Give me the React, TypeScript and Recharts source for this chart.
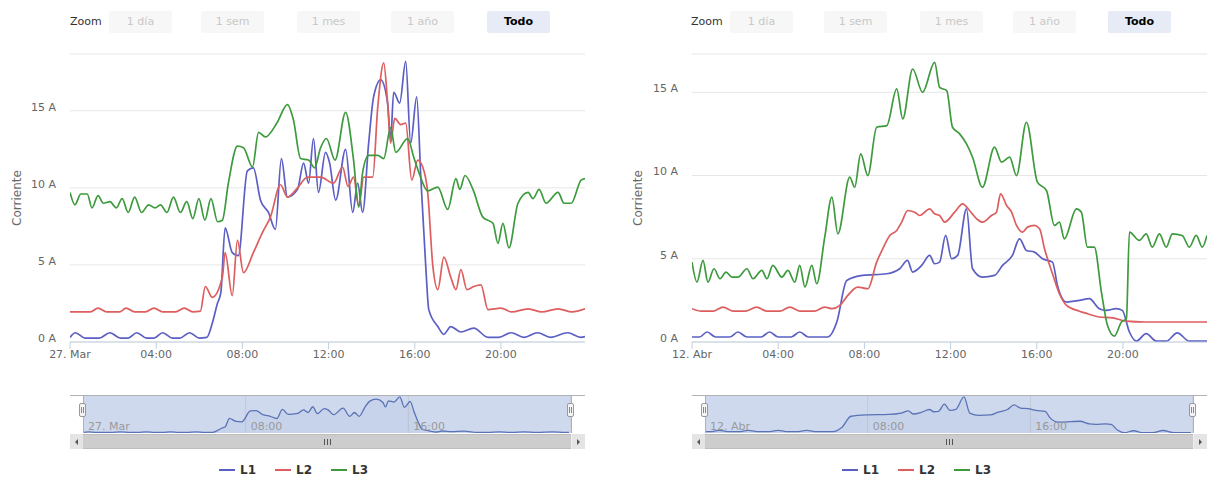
import React from 'react';
import { LineChart, Line, AreaChart, Area, XAxis, YAxis, CartesianGrid, Legend } from 'recharts';

type Pt = [number, number];

// [hour of day, amps]
const MAR_L1: Pt[] = [
  [0, 0.3], [0.25, 0.6], [0.7, 0.25], [1.35, 0.25], [1.85, 0.6], [2.35, 0.25], [2.7, 0.25],
  [3.1, 0.6], [3.55, 0.25], [3.9, 0.25], [4.3, 0.6], [4.75, 0.25], [5.1, 0.25], [5.55, 0.6],
  [6.0, 0.25], [6.35, 0.3], [6.6, 1.2], [6.84, 2.5], [7.0, 3.2], [7.2, 7.4], [7.53, 5.8],
  [7.81, 5.6], [8.23, 11.1], [8.51, 11.3], [8.84, 9.2], [9.21, 8.4], [9.53, 7.3], [9.81, 11.9],
  [10.09, 9.4], [10.56, 9.9], [10.84, 11.6], [11.07, 10.3], [11.3, 13.2], [11.53, 9.7],
  [11.86, 12.3], [12.05, 11.6], [12.33, 9.2], [12.79, 12.5], [13.12, 8.4], [13.35, 10.3],
  [13.58, 8.4], [13.86, 12.9], [14.09, 15.9], [14.42, 17.0], [14.74, 15.5], [14.88, 13.1],
  [15.02, 16.2], [15.3, 15.5], [15.58, 18.2], [15.81, 12.9], [16.09, 15.9], [16.28, 10.7],
  [16.51, 4.9], [16.65, 2.1], [17.07, 1.0], [17.35, 0.5], [17.67, 1.0], [18.14, 0.65],
  [18.74, 0.9], [19.4, 0.3], [19.9, 0.3], [20.47, 0.6], [21.07, 0.3], [21.7, 0.6], [22.3, 0.3],
  [23.1, 0.6], [23.7, 0.3], [23.9, 0.35],
];
const MAR_L2: Pt[] = [
  [0, 1.95], [0.5, 1.95], [0.95, 1.95], [1.3, 2.2], [1.7, 1.95], [2.3, 1.95], [2.6, 2.2],
  [3.0, 1.95], [3.5, 1.95], [3.9, 2.2], [4.3, 1.95], [4.9, 1.95], [5.3, 2.2], [5.7, 1.95],
  [6.05, 2.0], [6.28, 3.6], [6.6, 2.9], [7.07, 4.2], [7.2, 5.8], [7.53, 3.0], [7.77, 6.6],
  [8.05, 4.5], [8.51, 5.8], [8.93, 7.1], [9.3, 8.1], [9.77, 10.2], [10.09, 9.4], [10.56, 10.0],
  [11.02, 10.7], [11.63, 10.7], [12.23, 10.3], [12.65, 11.35], [12.9, 10.1], [13.16, 10.7],
  [13.4, 8.8], [13.63, 10.7], [14.05, 10.7], [14.28, 15.2], [14.56, 18.1], [14.74, 15.5],
  [14.88, 12.9], [15.07, 14.5], [15.35, 14.1], [15.58, 14.2], [15.86, 10.5], [16.14, 11.8],
  [16.37, 11.35], [16.6, 9.7], [16.84, 4.9], [17.07, 3.4], [17.35, 5.5], [17.67, 4.2],
  [17.91, 3.4], [18.14, 4.7], [18.42, 3.4], [18.74, 3.6], [19.07, 3.7], [19.4, 2.1],
  [20.0, 2.2], [20.5, 1.95], [21.26, 2.15], [21.9, 1.95], [22.65, 2.15], [23.3, 1.95],
  [23.9, 2.15],
];
const MAR_L3: Pt[] = [
  [0, 9.7], [0.23, 8.9], [0.5, 9.6], [0.8, 9.6], [1.02, 8.7], [1.3, 9.5], [1.55, 9.0],
  [1.85, 9.1], [2.15, 8.7], [2.42, 9.3], [2.7, 8.4], [3.0, 9.4], [3.32, 8.4], [3.65, 8.9],
  [3.95, 8.7], [4.2, 8.9], [4.5, 8.4], [4.8, 9.4], [5.12, 8.4], [5.42, 9.1], [5.7, 8.0],
  [5.98, 9.3], [6.26, 7.9], [6.54, 9.3], [6.85, 7.8], [7.07, 7.9], [7.35, 10.3], [7.77, 12.7],
  [8.05, 12.6], [8.47, 11.35], [8.75, 13.6], [9.07, 13.3], [9.6, 14.2], [10.09, 15.4],
  [10.37, 14.4], [10.7, 11.9], [11.07, 11.8], [11.35, 11.3], [11.63, 12.6], [11.9, 13.2],
  [12.3, 11.8], [12.79, 14.9], [13.16, 11.8], [13.4, 8.75], [13.58, 11.0], [13.86, 12.1],
  [14.28, 12.1], [14.56, 11.9], [14.88, 13.9], [15.12, 12.3], [15.67, 13.2], [15.95, 12.0],
  [16.19, 11.0], [16.6, 9.8], [17.07, 10.05], [17.53, 8.6], [17.91, 10.6], [18.09, 9.9],
  [18.33, 10.8], [18.7, 9.9], [19.16, 8.1], [19.63, 7.7], [19.86, 6.4], [20.09, 7.7],
  [20.37, 6.1], [20.79, 9.0], [21.26, 9.7], [21.49, 9.3], [21.77, 9.9], [22.09, 9.0],
  [22.65, 9.7], [22.93, 9.0], [23.26, 9.0], [23.72, 10.5], [23.9, 10.6],
];

const ABR_L1: Pt[] = [
  [0, 0.3], [0.35, 0.3], [0.7, 0.6], [1.1, 0.3], [1.75, 0.3], [2.13, 0.6], [2.55, 0.3],
  [3.2, 0.3], [3.6, 0.6], [4.0, 0.3], [4.6, 0.3], [5.0, 0.6], [5.4, 0.3], [6.3, 0.3],
  [6.72, 1.2], [7.18, 3.7], [7.92, 4.0], [9.04, 4.1], [9.64, 4.4], [10.0, 4.9], [10.24, 4.2],
  [10.66, 4.6], [11.03, 5.2], [11.26, 4.7], [11.49, 4.8], [11.77, 6.4], [12.05, 5.0],
  [12.33, 5.2], [12.74, 8.0], [13.02, 4.4], [13.48, 3.9], [14.04, 4.0], [14.41, 4.6],
  [14.87, 5.2], [15.2, 6.2], [15.52, 5.5], [15.89, 5.4], [16.27, 5.0], [16.73, 4.8],
  [16.96, 3.4], [17.38, 2.4], [17.98, 2.5], [18.44, 2.6], [18.9, 2.0], [19.23, 1.9],
  [19.69, 2.0], [19.97, 1.9], [20.3, 0.6], [20.62, 0.05], [21.08, 0.5], [21.55, 0.05],
  [22.01, 0.05], [22.52, 0.55], [23.08, 0.05], [23.68, 0.05], [23.9, 0.05],
];
const ABR_L2: Pt[] = [
  [0, 2.0], [0.4, 1.86], [1.0, 1.86], [1.44, 2.1], [1.9, 1.86], [2.5, 1.86], [3.0, 2.1],
  [3.45, 1.86], [4.1, 1.86], [4.54, 2.1], [5.0, 1.86], [5.7, 1.86], [6.16, 2.1], [6.5, 2.0],
  [6.86, 2.2], [7.23, 2.8], [7.69, 3.3], [8.16, 3.2], [8.57, 4.8], [8.85, 5.6], [9.18, 6.4],
  [9.5, 6.7], [9.73, 7.2], [10.01, 7.9], [10.33, 7.8], [10.57, 7.6], [11.03, 8.0],
  [11.26, 7.7], [11.49, 7.6], [11.72, 7.2], [12.19, 7.8], [12.56, 8.3], [12.88, 7.9],
  [13.21, 7.4], [13.48, 7.2], [13.9, 7.6], [14.13, 7.8], [14.32, 8.9], [14.6, 8.2],
  [14.83, 7.8], [15.06, 7.0], [15.34, 6.6], [15.57, 6.9], [15.89, 7.0], [16.13, 6.8],
  [16.36, 5.6], [16.73, 4.1], [17.05, 2.9], [17.38, 2.2], [17.98, 1.85], [18.35, 1.7],
  [18.9, 1.5], [19.51, 1.45], [20.16, 1.25], [21.0, 1.2], [23.9, 1.2],
];
const ABR_L3: Pt[] = [
  [0, 4.8], [0.23, 3.6], [0.51, 4.9], [0.74, 3.6], [1.02, 4.4], [1.3, 3.8], [1.58, 4.2],
  [1.85, 3.9], [2.13, 3.9], [2.55, 4.4], [2.83, 3.8], [3.24, 4.3], [3.48, 3.8], [3.75, 4.6],
  [4.17, 3.9], [4.45, 4.3], [4.77, 3.6], [5.0, 4.6], [5.24, 3.3], [5.56, 4.6], [5.79, 3.5],
  [6.16, 6.3], [6.49, 8.7], [6.77, 6.5], [7.32, 9.9], [7.55, 9.3], [7.83, 11.3], [8.16, 10.0],
  [8.57, 12.9], [9.04, 13.0], [9.5, 15.2], [9.78, 13.4], [10.24, 16.4], [10.7, 15.0],
  [11.26, 16.8], [11.49, 15.3], [11.82, 15.1], [12.09, 12.9], [12.42, 12.5], [12.74, 11.9],
  [13.02, 11.1], [13.48, 9.3], [14.04, 11.7], [14.37, 10.8], [14.74, 11.1], [15.06, 10.0],
  [15.52, 13.2], [16.03, 9.6], [16.45, 9.1], [16.82, 7.0], [17.05, 7.2], [17.28, 6.2],
  [17.84, 8.0], [18.07, 7.8], [18.35, 5.7], [18.67, 5.7], [19.0, 3.0], [19.28, 1.0],
  [19.6, 0.35], [19.93, 1.2], [20.16, 1.4], [20.3, 6.6], [20.76, 6.1], [21.08, 6.5],
  [21.36, 5.7], [21.69, 6.5], [22.01, 5.7], [22.29, 6.5], [22.75, 6.4], [23.08, 5.7],
  [23.4, 6.4], [23.68, 5.7], [23.9, 6.4],
];

const SERIES = ['L1', 'L2', 'L3'];
const COLORS = ['#5b5fc4', '#dd5e5e', '#3d9a3d'];
const NAV_COLOR = '#5a72b6';
const HOUR_TICKS = [0, 4, 8, 12, 16, 20];
const NAV_TICKS = [0, 8, 16];
const AMP_TICKS = [0, 5, 10, 15];
const RANGES = ['1 día', '1 sem', '1 mes', '1 año', 'Todo'];

const FONT = '"DejaVu Sans", Verdana, sans-serif';
const PLOT_TOP = 54;
const PLOT_BOTTOM = 342;
const NAV_TOP = 395;
const NAV_H = 38;
const SCROLL_TOP = 434;
const SCROLL_H = 15;

const toRows = (pts: Pt[]) => pts.map(([h, v]) => ({ h, v }));
const hourLabel = (day: string) => (h: number) =>
  h === 0 ? day : `${String(h).padStart(2, '0')}:00`;

const renderLegend = (props: any) => (
  <div style={{ display: 'flex' }}>
    {(props.payload || []).map((p: any) => (
      <div key={p.value} style={{ display: 'flex', alignItems: 'center', width: 56 }}>
        <svg width={16} height={10}>
          <line x1={0} y1={5} x2={16} y2={5} stroke={p.color} strokeWidth={2} />
        </svg>
        <span style={{ marginLeft: 5, fontSize: 12, fontWeight: 'bold', color: '#333', fontFamily: FONT }}>
          {p.value}
        </span>
      </div>
    ))}
  </div>
);

interface PanelProps {
  left: number;
  width: number;
  plotL: number;
  plotR: number;
  yMax: number;
  day: string;
  series: Pt[][];
  zoomX: number;
  buttonX: number[];
  titleX: number;
  legendX: number;
}

const Arrow = ({ dir }: { dir: 'l' | 'r' }) => (
  <div
    style={{
      width: 0,
      height: 0,
      borderTop: '3px solid transparent',
      borderBottom: '3px solid transparent',
      [dir === 'l' ? 'borderRight' : 'borderLeft']: '3px solid #555',
    }}
  />
);

const Panel = ({ left, width, plotL, plotR, yMax, day, series, zoomX, buttonX, titleX, legendX }: PanelProps) => {
  const navL = plotL + 13;
  const navR = plotR - 14;
  const fmt = hourLabel(day);
  const navData = toRows(series[0]);

  return (
    <div style={{ position: 'absolute', left, top: 0, width, height: 480 }}>
      <div style={{ position: 'absolute', left: zoomX, top: 11, height: 22, lineHeight: '22px', fontSize: 11, color: '#333' }}>
        Zoom
      </div>
      {RANGES.map((r, i) => {
        const on = i === RANGES.length - 1;
        return (
          <div
            key={r}
            style={{
              position: 'absolute',
              left: buttonX[i],
              top: 11,
              width: 63,
              height: 22,
              lineHeight: '22px',
              textAlign: 'center',
              fontSize: 11,
              borderRadius: 2,
              background: on ? '#e6ebf5' : '#f7f7f7',
              color: on ? '#000' : '#c8c8c8',
              fontWeight: on ? 'bold' : 'normal',
            }}
          >
            {r}
          </div>
        );
      })}

      <div style={{ position: 'absolute', left: 0, top: 0 }}>
        <LineChart
          width={width}
          height={480}
          margin={{ top: PLOT_TOP, right: width - plotR, bottom: 480 - PLOT_BOTTOM - 38, left: 0 }}
        >
          <CartesianGrid vertical={false} stroke="#e6e6e6" />
          <XAxis
            type="number"
            dataKey="h"
            domain={[0, 23.9]}
            allowDataOverflow
            ticks={HOUR_TICKS}
            interval={0}
            tickFormatter={fmt}
            height={38}
            tickSize={7}
            tickMargin={1}
            stroke="#c0d0e0"
            tick={{ fill: '#666', fontSize: 11 }}
          />
          <YAxis
            type="number"
            domain={[0, yMax]}
            allowDataOverflow
            ticks={AMP_TICKS}
            interval={0}
            width={plotL}
            tickSize={0}
            tickMargin={14}
            axisLine={false}
            tickLine={false}
            tickFormatter={(v: number) => `${v} A`}
            tick={{ fill: '#666', fontSize: 11, dy: -4 }}
            label={{
              value: 'Corriente',
              content: () => {
                const cy = (PLOT_TOP + PLOT_BOTTOM) / 2;
                return (
                  <text
                    x={titleX}
                    y={cy}
                    transform={`rotate(-90 ${titleX} ${cy})`}
                    textAnchor="middle"
                    dominantBaseline="central"
                    fill="#6a6a6a"
                    fontSize={12}
                  >
                    Corriente
                  </text>
                );
              },
            }}
          />
          {series.map((pts, i) => (
            <Line
              key={SERIES[i]}
              name={SERIES[i]}
              data={toRows(pts)}
              dataKey="v"
              type="monotone"
              stroke={COLORS[i]}
              strokeWidth={1.7}
              dot={false}
              activeDot={false}
              isAnimationActive={false}
            />
          ))}
          <Legend
            verticalAlign="middle"
            align="center"
            layout="horizontal"
            content={renderLegend}
            wrapperStyle={{ left: legendX, top: 463, width: 180, height: 18 }}
          />
        </LineChart>
      </div>

      {/* navigator */}
      <div style={{ position: 'absolute', left: navL, top: NAV_TOP, width: navR - navL, height: NAV_H, background: '#cfd9ee' }} />
      <div style={{ position: 'absolute', left: navL, top: NAV_TOP }}>
        <AreaChart width={navR - navL} height={NAV_H} margin={{ top: 0, right: 0, bottom: 0, left: 0 }} data={navData}>
          <CartesianGrid horizontal={false} stroke="#c2c8d4" />
          <XAxis
            type="number"
            dataKey="h"
            domain={[0, 24]}
            ticks={NAV_TICKS}
            interval={0}
            mirror
            tickSize={0}
            tickMargin={0}
            axisLine={false}
            tickLine={false}
            tick={(p: any) => (
              <text x={p.x + 5} y={NAV_H - 3} fill="#999" fontSize={11}>
                {fmt(p.payload.value)}
              </text>
            )}
          />
          <YAxis hide domain={[0, (m: number) => m * 1.05]} />
          <Area
            type="monotone"
            dataKey="v"
            stroke={NAV_COLOR}
            strokeWidth={1.3}
            fill={NAV_COLOR}
            fillOpacity={0.06}
            dot={false}
            activeDot={false}
            isAnimationActive={false}
          />
        </AreaChart>
      </div>
      <div style={{ position: 'absolute', left: plotL, top: NAV_TOP, width: plotR - plotL, height: 1, background: '#b2b1b6' }} />
      <div style={{ position: 'absolute', left: navL, top: NAV_TOP, width: 1, height: NAV_H, background: '#b2b1b6' }} />
      <div style={{ position: 'absolute', left: navR, top: NAV_TOP, width: 1, height: NAV_H, background: '#b2b1b6' }} />
      {[navL, navR].map((x) => (
        <div
          key={x}
          style={{
            position: 'absolute',
            left: x - 4,
            top: NAV_TOP + 8,
            width: 7,
            height: 14,
            background: '#f4f4f4',
            border: '1px solid #999',
            borderRadius: 2,
            boxSizing: 'border-box',
          }}
        >
          <div style={{ position: 'absolute', left: 1, top: 3, width: 1, height: 6, background: '#888' }} />
          <div style={{ position: 'absolute', left: 3, top: 3, width: 1, height: 6, background: '#888' }} />
        </div>
      ))}

      {/* scrollbar */}
      <div style={{ position: 'absolute', left: plotL, top: SCROLL_TOP, width: plotR - plotL, height: SCROLL_H, background: '#eeeeee' }} />
      <div
        style={{
          position: 'absolute',
          left: plotL,
          top: SCROLL_TOP,
          width: 13,
          height: SCROLL_H,
          background: '#e4e4e4',
          display: 'flex',
          alignItems: 'center',
          justifyContent: 'center',
        }}
      >
        <Arrow dir="l" />
      </div>
      <div
        style={{
          position: 'absolute',
          left: plotR - 13,
          top: SCROLL_TOP,
          width: 13,
          height: SCROLL_H,
          background: '#e4e4e4',
          display: 'flex',
          alignItems: 'center',
          justifyContent: 'center',
        }}
      >
        <Arrow dir="r" />
      </div>
      <div
        style={{
          position: 'absolute',
          left: navL,
          top: SCROLL_TOP,
          width: navR - navL,
          height: SCROLL_H,
          background: '#cdcdcd',
          borderTop: '1px solid #bdbdbd',
          borderBottom: '1px solid #bdbdbd',
          boxSizing: 'border-box',
          display: 'flex',
          alignItems: 'center',
          justifyContent: 'center',
          gap: 2,
        }}
      >
        {[0, 1, 2].map((k) => (
          <div key={k} style={{ width: 1, height: 6, background: '#555' }} />
        ))}
      </div>
    </div>
  );
};

export default function App() {
  return (
    <div style={{ position: 'absolute', left: 0, top: 0, width: 1208, height: 480, background: '#fff', fontFamily: FONT }}>
      <Panel
        left={0}
        width={600}
        plotL={70}
        plotR={585}
        yMax={18.68}
        day="27. Mar"
        series={[MAR_L1, MAR_L2, MAR_L3]}
        zoomX={70}
        buttonX={[109, 201, 297, 391, 487]}
        titleX={17}
        legendX={219}
      />
      <Panel
        left={608}
        width={600}
        plotL={84}
        plotR={599}
        yMax={17.3}
        day="12. Abr"
        series={[ABR_L1, ABR_L2, ABR_L3]}
        zoomX={83}
        buttonX={[122, 216, 312, 405, 500]}
        titleX={30}
        legendX={234}
      />
    </div>
  );
}
